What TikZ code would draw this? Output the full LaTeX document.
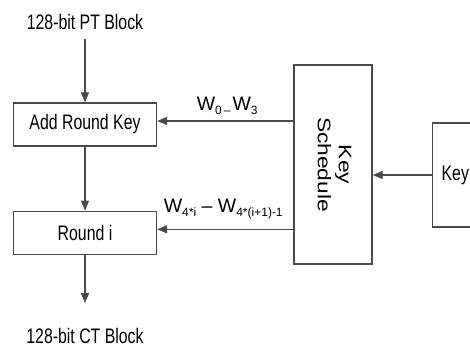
\documentclass[tikz,border=0pt]{standalone}
\usepackage{fontspec}
\setmainfont[FakeStretch=0.755]{Liberation Sans}
\newfontfamily\tallfont[FakeStretch=1.25]{Liberation Sans}
\newfontfamily\labfont{Liberation Sans}
\usetikzlibrary{arrows.meta,positioning}
\definecolor{linegray}{HTML}{4A4A4A}
\newcommand{\wsub}[1]{\raisebox{-4pt}{\fontsize{12}{12}\selectfont #1}}

\begin{document}
\begin{tikzpicture}[x=1pt, y=-1pt,
      font=\fontsize{21}{22}\selectfont,
      box/.style={draw=linegray, line width=1.3pt, minimum width=143pt,
                  minimum height=43pt, inner sep=0pt, align=center},
      arrow/.style={-{Triangle[length=10pt,width=8pt]}, linegray, line width=1.2pt},
      lab/.style={inner sep=0pt, anchor=base},
      wlab/.style={inner sep=0pt, anchor=base, text=black,
                   font=\labfont\fontsize{19.5}{22}\selectfont}
    ]
    \useasboundingbox (0,0) rectangle (470,347);
    \clip (0,0) rectangle (470,347);
    % block path
    \node[lab] (pt) at (85,30) {128-bit PT Block};
    \node[box] (ark) at (85,124.5) {Add Round Key};
    \node[box, below=64pt of ark] (round) {Round i};
    \node[lab] (ct) at (85,343.5) {128-bit CT Block};
    \draw[arrow, shorten <=9pt] (pt) -- (ark);
    \draw[arrow] (ark) -- (round);
    \draw[arrow, shorten >=25pt] (round) -- (ct);
    % key path
    \node[box, minimum width=78pt, minimum height=199pt] (sched) at (333,164.5) {};
    \node[rotate=-90, align=center, inner sep=0pt, font=\tallfont\fontsize{18.2}{21}\selectfont]
      (schedlab) at (334.5,164.5) {Key\\Schedule};
    \node[box, anchor=west, minimum width=0pt, minimum height=104pt, text width=70pt,
          align=left, inner xsep=9pt] (key) at (432,175) {Key};
    \draw[arrow] (key.west) -- (key.west -| sched.east);
    % round keys
    \coordinate (w0) at ([yshift=3.5pt]ark.east);
    \coordinate (wi) at ([yshift=3.5pt]round.east);
    \draw[arrow] (sched.west |- w0) -- (w0)
      node[wlab, midway, yshift=10pt, xshift=2pt] {W\wsub{0\,–\,}W\wsub{3}};
    \draw[arrow] (sched.west |- wi) -- (wi)
      node[wlab, midway, yshift=17pt, xshift=-2pt] {W\wsub{4*i} – W\wsub{4*(i+1)-1}};
  \end{tikzpicture}
\end{document}
